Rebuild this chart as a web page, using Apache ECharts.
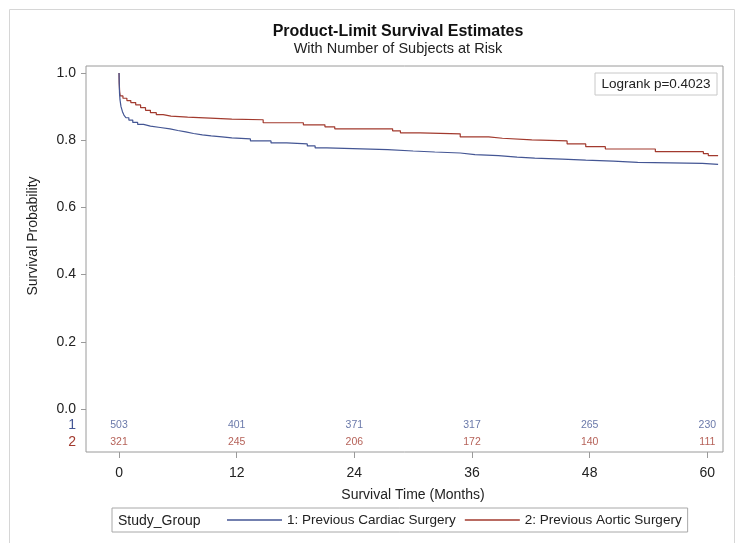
<!DOCTYPE html>
<html>
<head>
<meta charset="utf-8">
<script src="https://cdn.jsdelivr.net/npm/echarts@6/dist/echarts.min.js"></script>
<style>
html,body{margin:0;padding:0;background:#fff;}
#chart{width:739px;height:543px;}
</style>
</head>
<body>
<div id="chart"></div>
<script>
// ---- Data ----
var group1Name = '1: Previous Cardiac Surgery';
var group2Name = '2: Previous Aortic Surgery';
// Kaplan-Meier step points: time (months) and survival after that time
var group1Times = [0, 0.02, 0.05, 0.1, 0.2, 0.35, 0.5, 0.7, 1.0, 1.4, 1.9, 2.5, 3.2, 4.2, 5.2, 6.0, 6.8, 7.6, 8.5, 9.4, 10.5, 11.5, 13.4, 15.5, 17.1, 19.2, 20.0, 21.2, 27.4, 30.0, 32.2, 34.8, 36.3, 38.7, 40.6, 42.4, 45.2, 47.6, 50.4, 52.9, 59.5, 61.1];
var group1Surv  = [1.0, 0.97, 0.94, 0.92, 0.90, 0.885, 0.875, 0.867, 0.86, 0.853, 0.847, 0.842, 0.838, 0.834, 0.829, 0.825, 0.82, 0.816, 0.813, 0.81, 0.807, 0.804, 0.798, 0.792, 0.789, 0.783, 0.777, 0.772, 0.768, 0.765, 0.762, 0.757, 0.754, 0.750, 0.747, 0.744, 0.741, 0.738, 0.734, 0.731, 0.728, 0.728];
var group2Times = [0, 0.02, 0.06, 0.12, 0.4, 0.8, 1.2, 1.7, 2.2, 2.7, 3.2, 3.8, 4.5, 5.3, 7.0, 9.3, 11.5, 14.7, 18.8, 21.0, 22.0, 27.9, 28.7, 30.7, 34.8, 37.7, 39.1, 42.1, 45.7, 47.6, 49.6, 54.7, 59.6, 60.1, 61.1];
var group2Surv  = [1.0, 0.97, 0.945, 0.932, 0.925, 0.918, 0.912, 0.905, 0.897, 0.889, 0.882, 0.876, 0.872, 0.869, 0.866, 0.863, 0.861, 0.852, 0.846, 0.840, 0.834, 0.828, 0.822, 0.819, 0.810, 0.806, 0.801, 0.798, 0.789, 0.781, 0.774, 0.766, 0.760, 0.754, 0.754];
// Number at risk
var riskTimes = [0, 12, 24, 36, 48, 60];
var group1Risk = [503, 401, 371, 317, 265, 230];
var group2Risk = [321, 245, 206, 172, 140, 111];
// Axis ticks
var xTicks = [0, 12, 24, 36, 48, 60];
var yTicks = [0, 0.2, 0.4, 0.6, 0.8, 1.0];
var riskRowY1 = -0.0476, riskRowY2 = -0.098;

var C1 = '#445694', C2 = '#A23A2E';
var FONT = '"Liberation Sans", Arial, sans-serif';

function pairs(t, s) { return t.map(function (v, i) { return [v, s[i]]; }); }
function riskPts(row, vals) { return riskTimes.map(function (t, i) { return [t, row, vals[i]]; }); }

var chart = echarts.init(document.getElementById('chart'), null, {renderer: 'canvas'});
var option = {
  backgroundColor: '#fff',
  animation: false,
  textStyle: {fontFamily: FONT},
  grid: {left: 86, top: 66, width: 637, height: 386, show: true, borderColor: '#9a9a9a', borderWidth: 1, backgroundColor: 'transparent'},
  xAxis: {
    type: 'value', min: -3.37, max: 61.6, position: 'bottom',
    axisLine: {show: false, onZero: false},
    splitLine: {show: false},
    axisTick: {show: true, customValues: xTicks, length: 6, inside: false, lineStyle: {color: '#9a9a9a'}},
    axisLabel: {customValues: xTicks, fontSize: 14, color: '#222', margin: 14, fontFamily: FONT}
  },
  yAxis: {
    type: 'value', min: -0.128, max: 1.021, position: 'left',
    axisLine: {show: false, onZero: false},
    splitLine: {show: false},
    axisTick: {show: true, customValues: yTicks, length: 5, lineStyle: {color: '#9a9a9a'}},
    axisLabel: {
      customValues: yTicks.concat([riskRowY1, riskRowY2]), fontSize: 14, color: '#222', margin: 10, fontFamily: FONT,
      formatter: function (v) {
        if (v < -0.07) return '{r|2}';
        if (v < -0.01) return '{b|1}';
        return v.toFixed(1);
      },
      rich: {b: {color: C1, fontSize: 14, fontFamily: FONT}, r: {color: C2, fontSize: 14, fontFamily: FONT}}
    }
  },
  legend: {
    left: 112, top: 508,
    padding: [5, 6, 5, 115],
    borderColor: '#a8a8a8', borderWidth: 1,
    itemWidth: 55, itemHeight: 1.5, itemGap: 9,
    icon: 'rect',
    textStyle: {fontSize: 13.5, color: '#222', fontFamily: FONT},
    data: [group1Name, group2Name]
  },
  graphic: [
    {type: 'rect', left: 7, top: 7, shape: {width: 725, height: 545}, style: {fill: 'none', stroke: '#d6d6d6', lineWidth: 1}, silent: true, z: -1},
    {type: 'text', style: {text: 'Product-Limit Survival Estimates', font: 'bold 16px ' + FONT, fill: '#111', textAlign: 'center', textVerticalAlign: 'middle'}, x: 398, y: 32},
    {type: 'text', style: {text: 'With Number of Subjects at Risk', font: '14.5px ' + FONT, fill: '#222', textAlign: 'center', textVerticalAlign: 'middle'}, x: 398, y: 49},
    {type: 'text', style: {text: 'Survival Probability', font: '14px ' + FONT, fill: '#222', textAlign: 'center', textVerticalAlign: 'middle'}, x: 33, y: 236, rotation: Math.PI / 2},
    {type: 'text', style: {text: 'Survival Time (Months)', font: '14px ' + FONT, fill: '#222', textAlign: 'center', textVerticalAlign: 'middle'}, x: 413, y: 495},
    {type: 'text', style: {text: 'Study_Group', font: '14px ' + FONT, fill: '#222', textAlign: 'left', textVerticalAlign: 'middle'}, x: 118, y: 521},
    {type: 'group', x: 595, y: 73, children: [
      {type: 'rect', shape: {x: 0, y: 0, width: 122, height: 22}, style: {fill: '#fff', stroke: '#c8c8c8', lineWidth: 1}},
      {type: 'text', style: {text: 'Logrank p=0.4023', font: '13.5px ' + FONT, fill: '#222', textAlign: 'center', textVerticalAlign: 'middle'}, x: 61, y: 11}
    ]}
  ],
  series: [
    {name: group1Name, type: 'line', step: 'end', symbol: 'none', data: pairs(group1Times, group1Surv), lineStyle: {color: C1, width: 1.2}, itemStyle: {color: C1}, z: 3},
    {name: group2Name, type: 'line', step: 'end', symbol: 'none', data: pairs(group2Times, group2Surv), lineStyle: {color: C2, width: 1.2}, itemStyle: {color: C2}, z: 2},
    {type: 'scatter', symbolSize: 0, data: riskPts(riskRowY1, group1Risk), silent: true,
     label: {show: true, position: 'inside', formatter: function (p) { return p.value[2]; }, color: C1, fontSize: 10.5, fontFamily: FONT}},
    {type: 'scatter', symbolSize: 0, data: riskPts(riskRowY2, group2Risk), silent: true,
     label: {show: true, position: 'inside', formatter: function (p) { return p.value[2]; }, color: C2, fontSize: 10.5, fontFamily: FONT}}
  ]
};
chart.setOption(option);
</script>
</body>
</html>
